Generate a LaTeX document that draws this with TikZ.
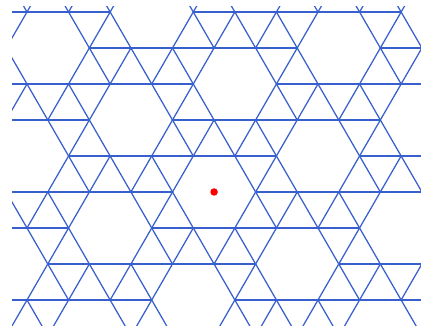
\documentclass[tikz,border=0pt]{standalone}
\definecolor{latblue}{RGB}{55,95,205}
\begin{document}
\begin{tikzpicture}[x=1pt,y=1pt,
  edge/.style={draw=latblue,line width=1.25pt},
  dotnode/.style={circle,fill=red,inner sep=0pt,minimum size=7.5pt}]
\useasboundingbox (0,0) rectangle (421,326);
% lattice vertices
\foreach \k in {-1,...,10}{
  \foreach \u in {-5,...,23}{
    \coordinate (v\u_\k) at ({27+20.785*\u},{314-36*\k});
  }
}
\begin{scope}
\clip (12,0) rectangle (421,319);
\foreach \k in {-1,...,8}{
  \foreach \u in {-3,...,20}{
    \pgfmathtruncatemacro{\pp}{mod(\u+\k+100,2)}
    \ifnum\pp=0
      \pgfmathtruncatemacro{\h}{mod(3*\u+\k+150,14)}
      \ifnum\h>0
        % horizontal neighbour
        \pgfmathtruncatemacro{\ua}{\u+2}
        \pgfmathtruncatemacro{\ha}{mod(3*\ua+\k+150,14)}
        \ifnum\ha>0 \draw[edge] (v\u_\k) -- (v\ua_\k); \fi
        % lower-right neighbour
        \pgfmathtruncatemacro{\ub}{\u+1}
        \pgfmathtruncatemacro{\kb}{\k+1}
        \pgfmathtruncatemacro{\hb}{mod(3*\ub+\kb+150,14)}
        \ifnum\hb>0 \draw[edge] (v\u_\k) -- (v\ub_\kb); \fi
        % lower-left neighbour
        \pgfmathtruncatemacro{\uc}{\u-1}
        \pgfmathtruncatemacro{\hc}{mod(3*\uc+\kb+150,14)}
        \ifnum\hc>0 \draw[edge] (v\u_\k) -- (v\uc_\kb); \fi
      \fi
    \fi
  }
}
\end{scope}
\node[dotnode] (dot) at (v9_5) {};
\end{tikzpicture}
\end{document}
